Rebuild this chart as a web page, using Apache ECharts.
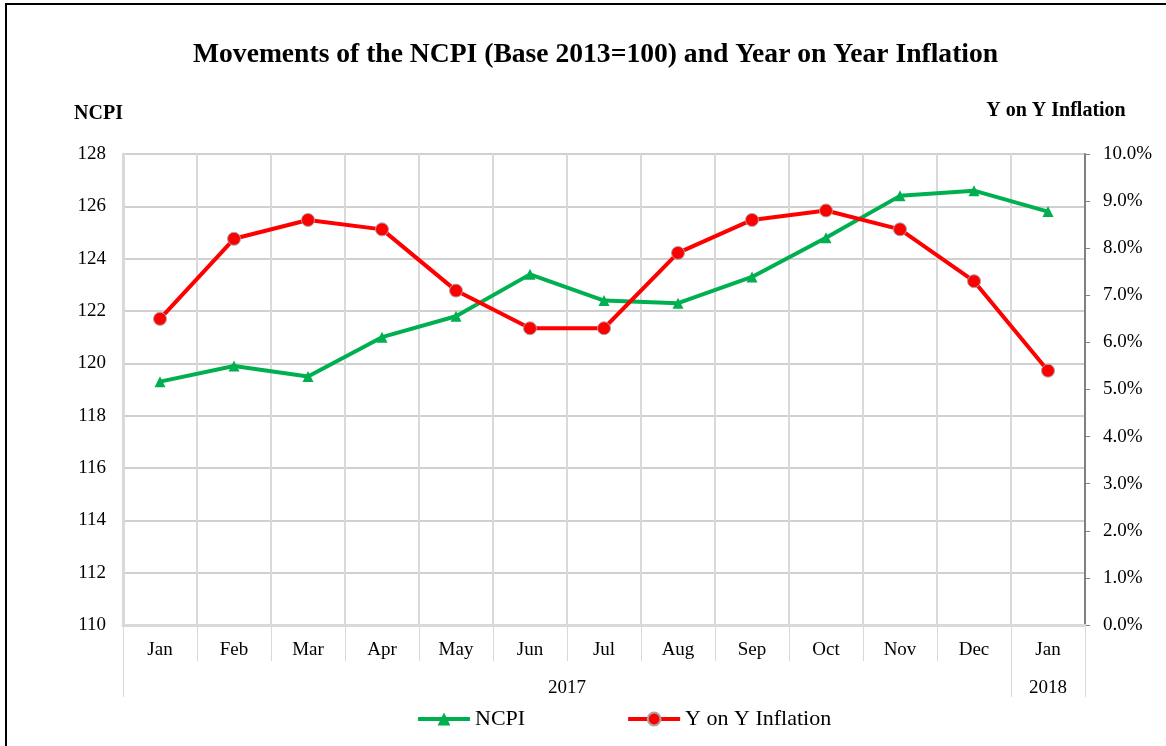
<!DOCTYPE html>
<html>
<head>
<meta charset="utf-8">
<title>NCPI and Year on Year Inflation</title>
<script src="https://cdn.jsdelivr.net/npm/echarts@6/dist/echarts.min.js"></script>
<style>
  html, body { margin: 0; padding: 0; background: #fff; }
  #chart { width: 1166px; height: 746px; }
  .frame {
    position: absolute; left: 5px; top: 3px; width: 1200px; height: 800px;
    border-left: 2px solid #000; border-top: 2px solid #000; pointer-events: none;
  }
</style>
</head>
<body>
<div id="chart"></div>
<div class="frame"></div>
<script>
const months = ['Jan', 'Feb', 'Mar', 'Apr', 'May', 'Jun', 'Jul', 'Aug', 'Sep', 'Oct', 'Nov', 'Dec', 'Jan']
const ncpi = [119.3, 119.9, 119.5, 121.0, 121.8, 123.4, 122.4, 122.3, 123.3, 124.8, 126.4, 126.6, 125.8]
const inflation = [6.5, 8.2, 8.6, 8.4, 7.1, 6.3, 6.3, 7.9, 8.6, 8.8, 8.4, 7.3, 5.4]

// year row: half-month steps, labels sit at the middle of each year's span
const yearSlots = Array.from({ length: 27 }, (_, i) => '')
yearSlots[12] = '2017'
yearSlots[25] = '2018'
const yearDividers = [0, 24, 26]

const font = 'Liberation Serif, Times New Roman, serif'
const chart = echarts.init(document.getElementById('chart'))

const option = {
  animation: false,
  textStyle: { fontFamily: font, color: '#000' },
  title: {
    text: 'Movements of the NCPI (Base 2013=100) and Year on Year Inflation',
    left: 188,
    top: 36,
    textStyle: { fontFamily: font, fontSize: 27.6, fontWeight: 'bold', color: '#000' }
  },
  legend: {
    left: 411,
    top: 703,
    itemWidth: 52,
    itemHeight: 16,
    itemGap: 101,
    lineStyle: { width: 4 },
    textStyle: { fontFamily: font, fontSize: 22, color: '#000' },
    data: ['NCPI', 'Y on Y Inflation']
  },
  grid: { left: 123, right: 81, top: 154, bottom: 121 },
  xAxis: [
    {
      type: 'category',
      data: months,
      boundaryGap: true,
      axisLine: { lineStyle: { color: '#d9d9d9', width: 3 } },
      axisTick: { show: true, length: 36, lineStyle: { color: '#d9d9d9' } },
      axisLabel: { fontFamily: font, fontSize: 19, color: '#000', margin: 16, interval: 0 },
      splitLine: { show: true, lineStyle: { color: '#d9d9d9', width: 2 } }
    },
    {
      type: 'category',
      data: yearSlots,
      boundaryGap: false,
      position: 'bottom',
      offset: 36,
      axisLine: { show: false },
      axisTick: {
        show: true,
        length: 36,
        interval: (index) => yearDividers.includes(index),
        lineStyle: { color: '#d9d9d9' }
      },
      axisLabel: { fontFamily: font, fontSize: 19, color: '#000', margin: 18, interval: 0 },
      splitLine: { show: false }
    }
  ],
  yAxis: [
    {
      type: 'value',
      min: 110,
      max: 128,
      interval: 2,
      name: 'NCPI',
      nameLocation: 'end',
      nameGap: 30,
      nameTextStyle: { fontFamily: font, fontSize: 20, fontWeight: 'bold', color: '#000', align: 'right' },
      axisLine: { show: true, lineStyle: { color: '#d9d9d9', width: 3 } },
      axisTick: { show: false },
      axisLabel: { fontFamily: font, fontSize: 19, color: '#000', margin: 17 },
      splitLine: { show: true, lineStyle: { color: '#d0d0d0', width: 2 } }
    },
    {
      type: 'value',
      min: 0,
      max: 10,
      interval: 1,
      position: 'right',
      name: 'Y on Y Inflation',
      nameLocation: 'end',
      nameGap: 33,
      nameTextStyle: { fontFamily: font, fontSize: 20, fontWeight: 'bold', color: '#000', align: 'center', padding: [0, 58, 0, 0] },
      axisLine: { show: true, lineStyle: { color: '#808080', width: 2 } },
      axisTick: { show: true, length: 5, lineStyle: { color: '#808080' } },
      axisLabel: { fontFamily: font, fontSize: 19, color: '#000', margin: 18, formatter: v => v.toFixed(1) + '%' },
      splitLine: { show: false }
    }
  ],
  series: [
    {
      name: 'NCPI',
      type: 'line',
      data: ncpi,
      symbol: 'triangle',
      symbolSize: 11,
      lineStyle: { color: '#00b050', width: 4 },
      itemStyle: { color: '#00b050' }
    },
    {
      name: 'Y on Y Inflation',
      type: 'line',
      yAxisIndex: 1,
      data: inflation,
      symbol: 'circle',
      symbolSize: 13,
      lineStyle: { color: '#ff0000', width: 4 },
      itemStyle: { color: '#ff0000', borderColor: '#a6a6a6', borderWidth: 1 }
    }
  ]
}

chart.setOption(option)
</script>
</body>
</html>
